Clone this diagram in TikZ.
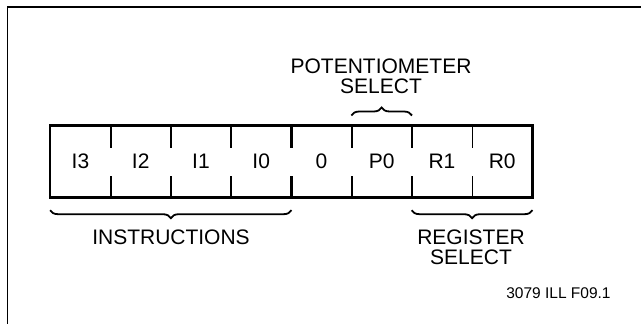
\documentclass[tikz,border=0pt]{standalone}
\usepackage{fontspec}
\setmainfont{Liberation Sans}
\usetikzlibrary{decorations.pathreplacing}

\begin{document}
\begin{tikzpicture}[x=1pt,y=-1pt,
    cell/.style={minimum width=60.25pt,minimum height=71.6pt,inner sep=0pt,font=\fontsize{21}{21}\selectfont},
    lbl/.style={align=center,inner sep=0pt,font=\fontsize{21}{20}\selectfont},
    bracedeco/.style={decorate,decoration={brace,amplitude=8pt},line width=1.8pt}]
    \useasboundingbox (0,0) rectangle (641,324);
    \draw[line width=1.5pt] (7.4,324) -- (7.4,7) -- (641,7);
    % register cells
    \foreach \t [count=\i] in {I3,I2,I1,I0,0,P0,R1,R0}
      \node[cell] (c\i) at ({50.3+60.25*(\i-0.5)},161.5) {\t};
    \draw[line width=2.6pt] (c1.north west) rectangle (c8.south east);
    \foreach \i in {1,...,6}
      \draw[line width=2.4pt] (c\i.north east) -- ++(0,22.6) (c\i.south east) -- ++(0,-21.6);
    \draw[line width=1pt] (c7.north east) -- ++(0,22.6) (c7.south east) -- ++(0,-21.6);
    % braces
    \draw[bracedeco] ([yshift=10pt]c6.north west) -- ([yshift=10pt]c6.north east)coordinate[midway] (pb);
    \draw[bracedeco] ([yshift=-12.7pt]c4.south east) -- ([yshift=-12.7pt]c1.south west);
    \draw[bracedeco] ([yshift=-12.7pt]c8.south east) -- ([yshift=-12.7pt]c7.south west);
    \node[lbl] (pot) at (381,76.7) {POTENTIOMETER\\SELECT};
    \node[lbl] (ins) at (171,237) {INSTRUCTIONS};
    \node[lbl] (reg) at (471,247) {REGISTER\\SELECT};
    \node[inner sep=0pt,font=\fontsize{15.5}{15.5}\selectfont] (fig) at (558.5,293) {3079 ILL F09.1};
\end{tikzpicture}
\end{document}
